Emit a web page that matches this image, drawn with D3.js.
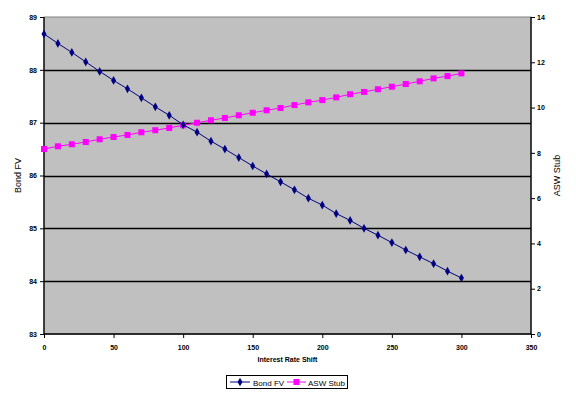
<!DOCTYPE html>
<html>
<head>
<meta charset="utf-8">
<script src="https://cdn.jsdelivr.net/npm/d3@7"></script>
<style>
  body { margin: 0; background: #fff; }
  svg { display: block; }
  .tick text { font-family: "Liberation Sans", Arial, sans-serif; font-size: 7px; font-weight: bold; }
</style>
</head>
<body>
<div id="chart"></div>
<script>
// rate shifts (bp)
const shifts = d3.range(0, 301, 10);
const bondFV = [88.68, 88.50, 88.33, 88.15, 87.97, 87.80, 87.64, 87.47, 87.30, 87.14,
  86.96, 86.82, 86.65, 86.50, 86.34, 86.18, 86.03, 85.88, 85.73, 85.57,
  85.44, 85.28, 85.15, 85.00, 84.87, 84.73, 84.59, 84.46, 84.33, 84.19, 84.06];
const aswStub = [8.17, 8.29, 8.38, 8.48, 8.60, 8.70, 8.79, 8.91, 9.00, 9.10,
  9.22, 9.33, 9.44, 9.54, 9.66, 9.77, 9.88, 9.98, 10.11, 10.23,
  10.33, 10.45, 10.59, 10.69, 10.81, 10.92, 11.04, 11.16, 11.29, 11.39, 11.51];
const xTicks = [0, 50, 100, 150, 200, 250, 300, 350];
const leftTicks = [83, 84, 85, 86, 87, 88, 89];
const rightTicks = [0, 2, 4, 6, 8, 10, 12, 14];

const W = 576, H = 395;
const margin = { top: 17, right: 45, bottom: 61, left: 44 };
const width = W - margin.left - margin.right;
const height = H - margin.top - margin.bottom;

const svg = d3.select('#chart').append('svg')
  .attr('width', W).attr('height', H)
  .style('font-family', '"Liberation Sans", Arial, sans-serif');

const g = svg.append('g').attr('transform', `translate(${margin.left},${margin.top})`);

const x = d3.scaleLinear().domain([0, 350]).range([0, width]);
const yL = d3.scaleLinear().domain([83, 89]).range([height, 0]);
const yR = d3.scaleLinear().domain([0, 14]).range([height, 0]);

g.append('rect').attr('width', width).attr('height', height)
  .attr('fill', '#c0c0c0').attr('stroke', '#808080').attr('stroke-width', 1);

// gridlines
g.append('g').selectAll('line')
  .data(leftTicks.filter(d => d > 83 && d < 89))
  .enter().append('line')
  .attr('x1', 0).attr('x2', width)
  .attr('y1', d => Math.round(yL(d)) + 0.5).attr('y2', d => Math.round(yL(d)) + 0.5)
  .attr('stroke', '#000').attr('stroke-width', 1.3);

// axes
const xAxis = g.append('g').attr('transform', `translate(0,${height})`)
  .call(d3.axisBottom(x).tickValues(xTicks).tickSize(4).tickPadding(7).tickFormat(d3.format('d')));
const lAxis = g.append('g')
  .call(d3.axisLeft(yL).tickValues(leftTicks).tickSize(4).tickPadding(3).tickFormat(d3.format('d')));
const rAxis = g.append('g').attr('transform', `translate(${width},0)`)
  .call(d3.axisRight(yR).tickValues(rightTicks).tickSize(4).tickPadding(2).tickFormat(d3.format('d')));
[xAxis, lAxis, rAxis].forEach(a => {
  a.select('.domain').attr('stroke', '#000').attr('stroke-width', 1.3);
  a.selectAll('.tick line').attr('stroke', '#000');
  a.selectAll('.tick text').attr('fill', '#000');
});
xAxis.select('.domain').attr('d', `M0,0H${width}`);
lAxis.select('.domain').attr('d', `M0,0V${height}`);
rAxis.select('.domain').attr('d', `M0,0V${height}`);

// series
const bondData = shifts.map((s, i) => [s, bondFV[i]]);
const aswData = shifts.map((s, i) => [s, aswStub[i]]);

g.append('path').datum(aswData)
  .attr('fill', 'none').attr('stroke', '#ff00ff').attr('stroke-width', 1)
  .attr('d', d3.line().x(d => x(d[0])).y(d => yR(d[1])));
g.append('g').selectAll('rect').data(aswData).enter().append('rect')
  .attr('x', d => x(d[0]) - 3).attr('y', d => yR(d[1]) - 3)
  .attr('width', 6).attr('height', 6).attr('fill', '#ff00ff');

g.append('path').datum(bondData)
  .attr('fill', 'none').attr('stroke', '#000080').attr('stroke-width', 1)
  .attr('d', d3.line().x(d => x(d[0])).y(d => yL(d[1])));
const diamond = d3.symbol().type(d3.symbolDiamond).size(22);
g.append('g').selectAll('path').data(bondData).enter().append('path')
  .attr('transform', d => `translate(${x(d[0])},${yL(d[1])})`)
  .attr('d', diamond).attr('fill', '#000080');

// titles
svg.append('text').attr('x', margin.left + width / 2).attr('y', 362)
  .attr('text-anchor', 'middle').attr('font-size', 7).attr('font-weight', 'bold')
  .text('Interest Rate Shift');
svg.append('text').attr('transform', `translate(21,${margin.top + height / 2}) rotate(-90)`)
  .attr('text-anchor', 'middle').attr('font-size', 9)
  .text('Bond FV');
svg.append('text').attr('transform', `translate(560,${margin.top + height / 2}) rotate(-90)`)
  .attr('text-anchor', 'middle').attr('font-size', 9)
  .text('ASW Stub');

// legend
const leg = svg.append('g').attr('transform', 'translate(226,375)');
leg.append('rect').attr('x', 0.5).attr('y', 0.5).attr('width', 121).attr('height', 13)
  .attr('fill', '#fff').attr('stroke', '#000');
leg.append('line').attr('x1', 4).attr('x2', 24).attr('y1', 7).attr('y2', 7).attr('stroke', '#000080');
leg.append('path').attr('transform', 'translate(14,7)').attr('d', diamond).attr('fill', '#000080');
leg.append('text').attr('x', 27).attr('y', 10.5).attr('font-size', 8).text('Bond FV');
leg.append('line').attr('x1', 61).attr('x2', 80).attr('y1', 7).attr('y2', 7).attr('stroke', '#ff00ff');
leg.append('rect').attr('x', 67.5).attr('y', 4).attr('width', 6).attr('height', 6).attr('fill', '#ff00ff');
leg.append('text').attr('x', 82).attr('y', 10.5).attr('font-size', 8).text('ASW Stub');
</script>
</body>
</html>
